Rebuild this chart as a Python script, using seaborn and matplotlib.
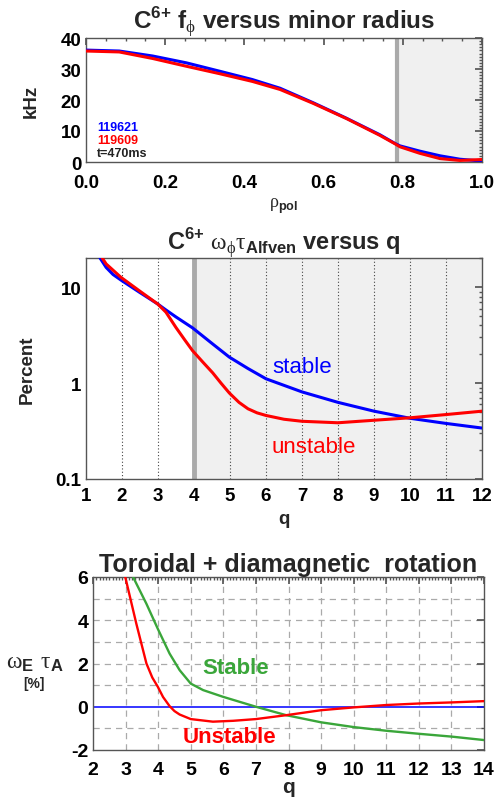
import numpy as np
import pandas as pd
import matplotlib
matplotlib.use("Agg")
import matplotlib.pyplot as plt
import seaborn as sns
from matplotlib.ticker import MultipleLocator, FixedLocator, LogLocator, NullFormatter, FormatStrFormatter

sns.set_theme(style="white")
plt.rcParams['font.family'] = ['Liberation Sans', 'DejaVu Sans']
plt.rcParams['mathtext.fontset'] = 'custom'
plt.rcParams['mathtext.rm'] = 'Liberation Serif'
plt.rcParams['mathtext.bf'] = 'Liberation Sans:bold'
plt.rcParams['axes.unicode_minus'] = False

# ---- Panel 1 data: rotation frequency vs rho_pol ----
rho = [0.0, 0.084, 0.168, 0.253, 0.337, 0.42, 0.49, 0.574, 0.658, 0.742, 0.78, 0.793, 0.843, 0.894, 0.944, 1.0]
f_119621 = [36.1, 35.8, 34.2, 32.0, 29.3, 26.6, 23.8, 19.1, 14.1, 8.8, 6.0, 5.2, 3.5, 2.0, 0.9, 0.3]
f_119609 = [35.8, 35.5, 33.4, 30.9, 28.5, 26.0, 23.4, 18.9, 14.0, 8.6, 5.9, 4.9, 2.8, 1.1, 0.5, 0.8]

# ---- Panel 2 data: omega*tau_A vs q (log) ----
q_stable = [1.39, 1.56, 1.75, 1.97, 2.48, 2.99, 3.22, 3.5, 3.96, 4.52, 4.98, 5.5, 6.0, 7.0, 8.0, 9.0, 10.0, 11.0, 12.0]
w_stable = [20.2, 16.1, 13.6, 11.9, 8.9, 6.7, 5.8, 4.9, 3.77, 2.56, 1.87, 1.42, 1.11, 0.81, 0.63, 0.51, 0.43, 0.38, 0.34]
q_unstable = [1.45, 1.56, 1.97, 2.48, 2.99, 3.22, 3.5, 3.75, 3.96, 4.25, 4.52, 4.75, 4.98, 5.25, 5.5, 5.75, 6.0, 6.5, 7.0, 8.0, 9.0, 10.0, 11.0, 12.0]
w_unstable = [20.2, 17.5, 12.7, 9.2, 6.7, 5.5, 3.8, 2.8, 2.18, 1.65, 1.28, 1.0, 0.79, 0.63, 0.54, 0.49, 0.46, 0.42, 0.40, 0.386, 0.41, 0.435, 0.47, 0.51]

# ---- Panel 3 data: toroidal + diamagnetic rotation ----
q3_stable = [3.23, 3.64, 3.99, 4.35, 4.66, 5.0, 5.38, 5.99, 7.0, 7.93, 9.0, 10.0, 11.0, 12.0, 13.0, 14.0]
w3_stable = [6.0, 4.76, 3.6, 2.46, 1.69, 1.07, 0.77, 0.46, 0.0, -0.39, -0.72, -0.94, -1.11, -1.25, -1.38, -1.54]
q3_unstable = [2.99, 3.33, 3.64, 3.82, 3.99, 4.15, 4.35, 4.5, 4.66, 5.0, 5.68, 6.3, 7.0, 7.93, 9.0, 10.0, 11.0, 12.0, 13.0, 14.0]
w3_unstable = [6.0, 3.84, 2.0, 1.35, 0.92, 0.45, 0.03, -0.2, -0.36, -0.57, -0.69, -0.65, -0.57, -0.39, -0.16, -0.03, 0.08, 0.15, 0.2, 0.26]

BLUE = "#0000ff"
RED = "#ff0000"
GREEN = "#3aa63a"
SHADE = "#f0f0f0"
VLINE = "#aaaaaa"

fig = plt.figure(figsize=(4.97, 8.04), dpi=100)
W, H = 497, 804
def rect(l, t, r, b):
    return [l / W, 1 - b / H, (r - l) / W, (b - t) / H]

ax1 = fig.add_axes(rect(86, 39, 482, 163))
ax2 = fig.add_axes(rect(86, 259, 482, 480))
ax3 = fig.add_axes(rect(93, 578, 484, 751))

def style_axes(ax):
    for s in ax.spines.values():
        s.set_color("#555555")
        s.set_linewidth(1.0)
    ax.tick_params(which="both", direction="in", top=True, right=True, colors="#555555",
                   labelcolor="black")
    ax.tick_params(which="major", length=5)
    ax.tick_params(which="minor", length=2.5)

# ---------- Panel 1 ----------
ax1.axvspan(0.785, 1.0, color=SHADE, zorder=0)
ax1.axvline(0.785, color=VLINE, lw=3, zorder=1)
d1 = pd.DataFrame({"rho": rho, "blue": f_119621, "red": f_119609})
sns.lineplot(data=d1, x="rho", y="blue", ax=ax1, color=BLUE, lw=2.2, zorder=3)
sns.lineplot(data=d1, x="rho", y="red", ax=ax1, color=RED, lw=2.2, zorder=4)
ax1.set_xlim(0, 1)
ax1.set_ylim(0, 40)
ax1.xaxis.set_major_locator(MultipleLocator(0.2))
ax1.xaxis.set_major_formatter(FormatStrFormatter("%.1f"))
ax1.xaxis.set_minor_locator(MultipleLocator(0.05))
ax1.yaxis.set_major_locator(MultipleLocator(10))
ax1.yaxis.set_minor_locator(MultipleLocator(1))
style_axes(ax1)
ax1.tick_params(labelsize=13.5)
ax1.tick_params(axis="x", pad=9)
for lab in ax1.get_xticklabels() + ax1.get_yticklabels():
    lab.set_fontweight("bold")
ax1.set_xlabel(r"$\mathrm{\rho}_{\mathbf{pol}}$", fontsize=13, labelpad=3)
ax1.set_ylabel("kHz", fontsize=13.5, fontweight="bold")
ax1.yaxis.set_label_coords(-0.116, 0.5)
ax1.set_title(r"C$^{\mathbf{6{+}}}$ f$_{\mathrm{\phi}}$ versus minor radius",
              fontsize=17.5, fontweight="bold", pad=7)
ax1.text(0.028, 0.285, "119621", color=BLUE, fontsize=9, fontweight="bold",
         va="center", transform=ax1.transAxes)
ax1.text(0.028, 0.18, "119609", color=RED, fontsize=9, fontweight="bold",
         va="center", transform=ax1.transAxes)
ax1.text(0.028, 0.073, "t=470ms", color="#222222", fontsize=9, fontweight="bold",
         va="center", transform=ax1.transAxes)

# ---------- Panel 2 ----------
ax2.axvspan(4.0, 12.0, color=SHADE, zorder=0)
for qv in [2, 3, 5, 6, 7, 8, 9, 10, 11]:
    ax2.axvline(qv, color="#444444", lw=0.8, ls=(0, (1, 2)), zorder=1)
ax2.axvline(4.0, color=VLINE, lw=3.5, zorder=2)
d2s = pd.DataFrame({"q": q_stable, "w": w_stable})
d2u = pd.DataFrame({"q": q_unstable, "w": w_unstable})
sns.lineplot(data=d2s, x="q", y="w", ax=ax2, color=BLUE, lw=2.2, zorder=3)
sns.lineplot(data=d2u, x="q", y="w", ax=ax2, color=RED, lw=2.2, zorder=4)
ax2.set_yscale("log")
ax2.set_xlim(1, 12)
ax2.set_ylim(0.1, 20.2)
ax2.xaxis.set_major_locator(MultipleLocator(1))
ax2.yaxis.set_major_locator(FixedLocator([0.1, 1, 10]))
ax2.yaxis.set_minor_locator(LogLocator(base=10, subs=np.arange(2, 10)))
ax2.yaxis.set_minor_formatter(NullFormatter())
ax2.yaxis.set_major_formatter(FormatStrFormatter("%g"))
style_axes(ax2)
ax2.tick_params(labelsize=13.5)
ax2.tick_params(axis="x", top=False, pad=6)
for lab in ax2.get_xticklabels() + ax2.get_yticklabels():
    lab.set_fontweight("bold")
ax2.set_xlabel("q", fontsize=13.5, fontweight="bold", labelpad=4)
ax2.set_ylabel("Percent", fontsize=13.5, fontweight="bold")
ax2.yaxis.set_label_coords(-0.126, 0.5)
ax2.set_title(r"C$^{\mathbf{6{+}}}$ $\mathrm{\omega_{\phi}\tau_{\mathbf{Alfven}}}$ versus q",
              fontsize=17, fontweight="bold", pad=6)
ax2.text(7.0, 1.48, "stable", color=BLUE, fontsize=16, ha="center", va="center")
ax2.text(7.33, 0.217, "unstable", color=RED, fontsize=16, ha="center", va="center")

# ---------- Panel 3 ----------
for qv in range(3, 14):
    ax3.axvline(qv, color="#aaaaaa", lw=0.9, ls=(0, (5, 4)), zorder=0)
for yv in [-1, 1, 2, 3, 4, 5]:
    ax3.axhline(yv, color="#aaaaaa", lw=0.9, ls=(0, (5, 4)), zorder=0)
ax3.axhline(0, color=BLUE, lw=1.1, zorder=2)
d3s = pd.DataFrame({"q": q3_stable, "w": w3_stable})
d3u = pd.DataFrame({"q": q3_unstable, "w": w3_unstable})
sns.lineplot(data=d3s, x="q", y="w", ax=ax3, color=GREEN, lw=1.7, zorder=3)
sns.lineplot(data=d3u, x="q", y="w", ax=ax3, color=RED, lw=1.7, zorder=4)
ax3.set_xlim(2, 14)
ax3.set_ylim(-2, 6)
ax3.xaxis.set_major_locator(MultipleLocator(1))
ax3.xaxis.set_minor_locator(MultipleLocator(0.1))
ax3.yaxis.set_major_locator(MultipleLocator(2))
ax3.yaxis.set_minor_locator(MultipleLocator(1))
style_axes(ax3)
ax3.tick_params(which="minor", axis="x", length=2)
ax3.tick_params(axis="x", labelsize=14, pad=8)
ax3.tick_params(axis="y", labelsize=14)
for lab in ax3.get_xticklabels() + ax3.get_yticklabels():
    lab.set_fontweight("bold")
ax3.set_xlabel("q", fontsize=15, fontweight="bold", labelpad=-1)
ax3.set_ylabel("")
fig.text(35 / W, 1 - 663 / H, r"$\mathrm{\omega_{\mathbf{E}}\ \tau_{\mathbf{A}}}$",
         fontsize=17, ha="center", va="center")
fig.text(34 / W, 1 - 684 / H, "[%]", fontsize=10, fontweight="bold", ha="center", va="center")
ax3.set_title("Toroidal + diamagnetic  rotation", fontsize=18, fontweight="bold", pad=4)
ax3.text(6.37, 1.81, "Stable", color=GREEN, fontsize=16, fontweight="bold", ha="center", va="center")
ax3.text(6.2, -1.37, "Unstable", color=RED, fontsize=16, fontweight="bold", ha="center", va="center")

fig.savefig("out.png", dpi=100)
